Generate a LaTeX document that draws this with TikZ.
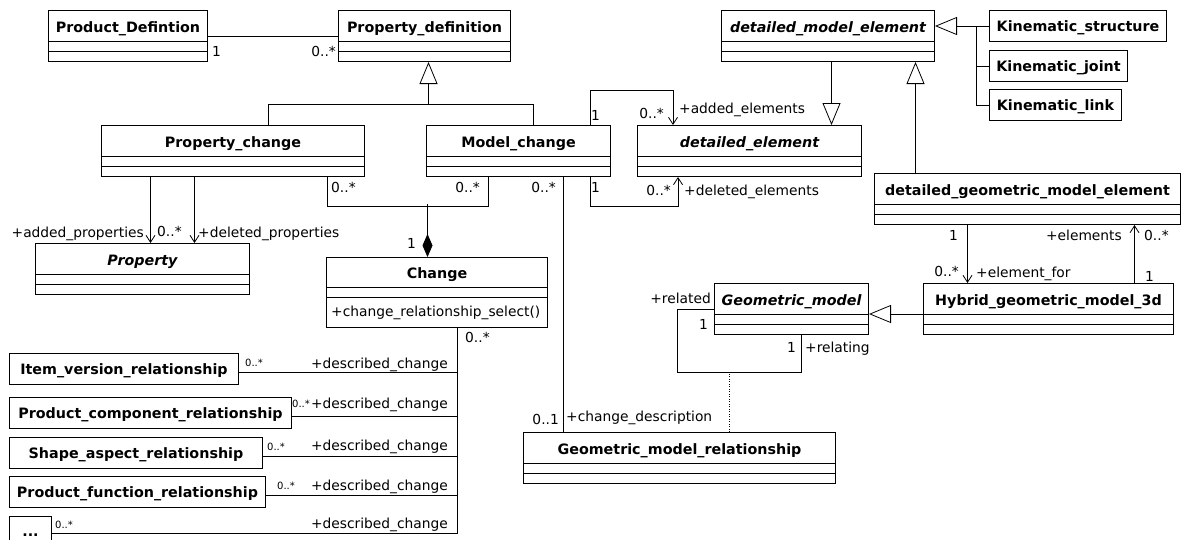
\documentclass[tikz,border=0pt]{standalone}
\usepackage{fontspec}
\setmainfont{DejaVu Sans}
\usetikzlibrary{arrows.meta, calc}
\newcommand{\clsfont}{\fontsize{14.3}{16}\selectfont\bfseries}
\newcommand{\lblfont}{\fontsize{13.8}{15}\selectfont}
\newcommand{\multfont}{\fontsize{10}{12}\selectfont}
\tikzset{
  cls/.style={draw, line width=1pt, anchor=north west, inner sep=0pt,
    text height=22pt, text depth=29pt, font=\clsfont,
    path picture={\draw[line width=1pt]
      ([yshift=-31pt]path picture bounding box.north west) -- ([yshift=-31pt]path picture bounding box.north east)
      ([yshift=-41pt]path picture bounding box.north west) -- ([yshift=-41pt]path picture bounding box.north east);}},
  abstr/.style={cls, font=\clsfont\itshape},
  opcls/.style={draw, line width=1pt, anchor=north west, inner sep=0pt,
    text height=21pt, text depth=49pt, font=\clsfont,
    path picture={\draw[line width=1pt]
      ([yshift=-30pt]path picture bounding box.north west) -- ([yshift=-30pt]path picture bounding box.north east)
      ([yshift=-40pt]path picture bounding box.north west) -- ([yshift=-40pt]path picture bounding box.north east);}},
  leaf/.style={draw, line width=1pt, anchor=north west, inner sep=0pt,
    minimum height=31pt, text height=11pt, text depth=0pt, font=\clsfont},
  lbl/.style={font=\lblfont, inner sep=0pt},
  mult/.style={font=\multfont, inner sep=0pt},
  link/.style={line width=0.8pt},
  gen/.style={link, -{Triangle[open, length=22pt, width=18pt]}},
  nav/.style={link, -{Straight Barb[length=7pt, width=9pt]}},
  comp/.style={link, -{Diamond[length=23pt, width=10pt]}},
}
\begin{document}
\begin{tikzpicture}[x=1pt, y=-1pt]
\useasboundingbox (0,0) rectangle (1182,539);
% classes
\node[cls, minimum width=159pt] (proddef) at (48,10) {Product\_Defintion};
\node[cls, minimum width=172pt] (propdef) at (338,10) {Property\_definition};
\node[abstr, minimum width=213pt] (dme) at (721,10) {detailed\_model\_element};
\node[leaf, minimum width=177pt] (kstruct) at (989,10) {Kinematic\_structure};
\node[leaf, minimum width=138pt] (kjoint) at (989,50) {Kinematic\_joint};
\node[leaf, minimum width=132pt] (klink) at (989,89) {Kinematic\_link};
\node[cls, minimum width=263pt] (pchg) at (101,125) {Property\_change};
\node[cls, minimum width=184pt] (mchg) at (426,125) {Model\_change};
\node[abstr, minimum width=224pt] (delem) at (637,125) {detailed\_element};
\node[cls, minimum width=306pt] (dgme) at (874,173) {detailed\_geometric\_model\_element};
\node[abstr, minimum width=214pt] (prop) at (35,243) {Property};
\node[opcls, minimum width=221pt] (chg) at (326,257) {Change};
\node[lbl, anchor=base west] (chgop) at (331,316) {+change\_relationship\_select()};
\node[abstr, minimum width=154pt] (gmod) at (714,283) {Geometric\_model};
\node[cls, minimum width=250pt] (hybrid) at (923,283) {Hybrid\_geometric\_model\_3d};
\node[cls, minimum width=312pt] (gmrel) at (523,432) {Geometric\_model\_relationship};
\node[leaf, minimum width=229pt] (ivr) at (9,353) {Item\_version\_relationship};
\node[leaf, minimum width=282pt] (pcr) at (9,397) {Product\_component\_relationship};
\node[leaf, minimum width=253pt] (sar) at (9,437) {Shape\_aspect\_relationship};
\node[leaf, minimum width=256pt] (pfr) at (9,476) {Product\_function\_relationship};
\node[leaf, minimum width=42pt, minimum height=28pt] (etc) at (9,516) {...};

% Product_Defintion -- Property_definition
\draw[link] ([yshift=-26pt]proddef.north east) -- ([yshift=-26pt]propdef.north west);
\node[lbl, anchor=base west] (pd1) at (212,56) {1};
\node[lbl, anchor=base east] (pd2) at (336,56) {0..*};

% generalisations
\draw[gen] ([xshift=35.5pt]pchg.north) |- ([xshift=4pt,yshift=-42pt]propdef.south) -- ([xshift=4pt]propdef.south);
\draw[link] ([xshift=15pt]mchg.north) |- ([xshift=4pt,yshift=-42pt]propdef.south);
\draw[gen] (kstruct.west) -- ([yshift=10pt]dme.east);
\draw[link] (klink.west) -| ([xshift=-13pt]kstruct.west);
\draw[link] (kjoint.west) -- ([xshift=-13pt]kjoint.west);
\draw[gen] ([xshift=3.5pt]dme.south) -- ([xshift=82pt]delem.north);
\draw[gen] ([xshift=-112pt]dgme.north) -- ([xshift=87.5pt]dme.south);
\draw[gen] ([yshift=-5pt]hybrid.west) -- ([yshift=-5pt]gmod.east);

% Property_change -> Property
\draw[nav] ([xshift=-82.5pt]pchg.south) -- ([xshift=8pt]prop.north);
\draw[nav] ([xshift=-38.5pt]pchg.south) -- ([xshift=52pt]prop.north);
\node[lbl, anchor=base east] (pp1) at (144,237) {+added\_properties};
\node[lbl, anchor=base west] (pp2) at (157,236) {0..*};
\node[lbl, anchor=base west] (pp3) at (198,237) {+deleted\_properties};

% composition into Change
\draw[link] ([xshift=-38pt]pchg.south east) -- ++(0,29) -| ([xshift=62pt]mchg.south west);
\draw[comp] ([xshift=-9.5pt,yshift=53pt]chg.north) -- ([xshift=-9.5pt]chg.north);
\node[lbl, anchor=base west] (cm1) at (331,192) {0..*};
\node[lbl, anchor=base east] (cm2) at (480,192) {0..*};
\node[lbl, anchor=base east] (cm3) at (416,248) {1};

% Model_change -- detailed_element
\draw[nav] ([xshift=-21pt]mchg.north east) -- ++(0,-35) -| ([xshift=36pt]delem.north west);
\draw[nav] ([xshift=-21pt]mchg.south east) -- ++(0,29) -| ([xshift=41pt]delem.south west);
\node[lbl, anchor=base west] (de1) at (591,120) {1};
\node[lbl, anchor=base east] (de2) at (664,118) {0..*};
\node[lbl, anchor=base west] (de3) at (679,113) {+added\_elements};
\node[lbl, anchor=base west] (de4) at (591,192) {1};
\node[lbl, anchor=base east] (de5) at (671,195) {0..*};
\node[lbl, anchor=base west] (de6) at (684,195) {+deleted\_elements};

% Model_change -- Geometric_model_relationship
\draw[link] ([xshift=45pt]mchg.south) -- ([xshift=-116pt]gmrel.north);
\node[lbl, anchor=base east] (gr1) at (556,192) {0..*};
\node[lbl, anchor=base east] (gr2) at (559,424) {0..1};
\node[lbl, anchor=base west] (gr3) at (566,421) {+change\_description};

% Change -- described relationships
\coordinate (bus) at ([xshift=20.5pt]chg.south);
\foreach \r in {ivr,pcr,sar,pfr,etc}
  \draw[link] ([yshift=-3pt]\r.east) -| (bus);
\node[lbl, anchor=base west] (ch1) at (465,342) {0..*};
\foreach \yy [count=\i] in {368,408,450,490,528}
  \node[lbl, anchor=base east] (dc\i) at (448,\yy) {+described\_change};
\node[mult, anchor=base west] (mu1) at (245,366) {0..*};
\node[mult, anchor=base west] (mu2) at (292,407) {0..*};
\node[mult, anchor=base west] (mu3) at (267,450) {0..*};
\node[mult, anchor=base west] (mu4) at (277,489) {0..*};
\node[mult, anchor=base west] (mu5) at (55,528) {0..*};

% Geometric_model self association
\draw[link] (gmod.west) -- ++(-37,0) -- ++(0,63) -| ([xshift=10pt]gmod.south);
\draw[link, dash pattern=on 1pt off 1.5pt] ([xshift=50pt]gmrel.north) -- ++(0,-60);
\node[lbl, anchor=base east] (gm1) at (711,303) {+related};
\node[lbl, anchor=base east] (gm2) at (708,329) {1};
\node[lbl, anchor=base east] (gm3) at (796,352) {1};
\node[lbl, anchor=base west] (gm4) at (805,352) {+relating};

% detailed_geometric_model_element -- Hybrid_geometric_model_3d
\draw[nav] ([xshift=-60pt]dgme.south) -- ([xshift=-81pt]hybrid.north);
\draw[nav] ([xshift=86pt]hybrid.north) -- ([xshift=107pt]dgme.south);
\node[lbl, anchor=base east] (hy1) at (958,240) {1};
\node[lbl, anchor=base east] (hy2) at (959,276) {0..*};
\node[lbl, anchor=base west] (hy3) at (976,277) {+element\_for};
\node[lbl, anchor=base east] (hy4) at (1122,240) {+elements};
\node[lbl, anchor=base west] (hy5) at (1144,240) {0..*};
\node[lbl, anchor=base west] (hy6) at (1145,281) {1};
\end{tikzpicture}
\end{document}
